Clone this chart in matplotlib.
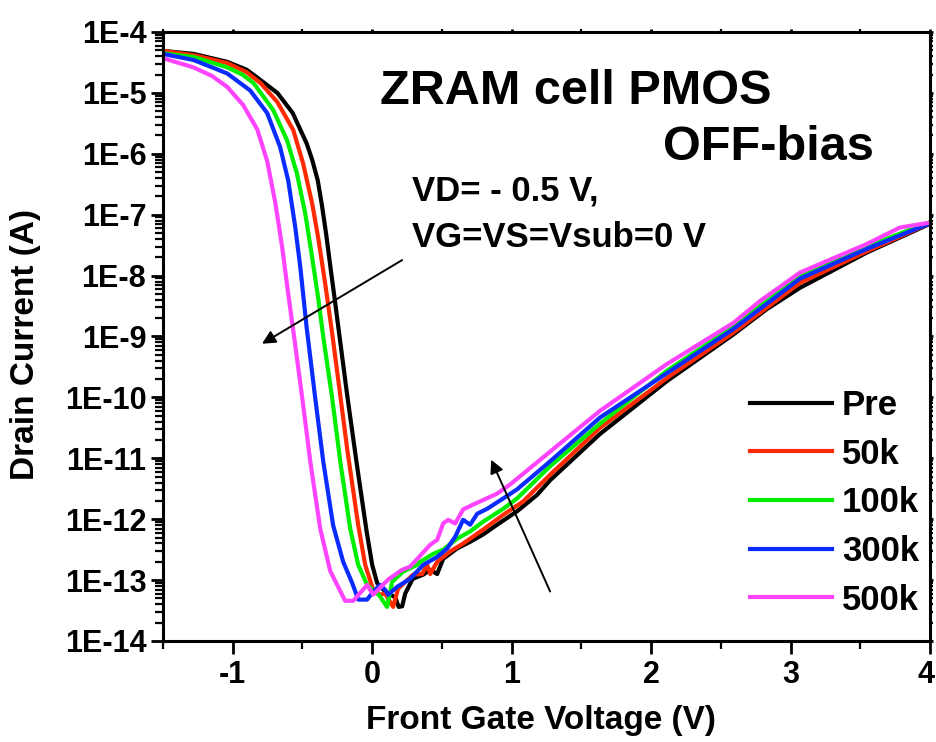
import numpy as np
import matplotlib
matplotlib.use("Agg")
import matplotlib.pyplot as plt
import matplotlib.transforms as mtrans
from matplotlib.ticker import LogLocator, FixedLocator, MultipleLocator, NullFormatter

plt.rcParams['font.family'] = ['Liberation Sans', 'DejaVu Sans']
plt.rcParams['font.weight'] = 'bold'

# ---- data: gate voltage (V) and log10 of drain current (A) ----
pre_v = [-1.5, -1.28, -1.04, -0.90, -0.80, -0.68, -0.57, -0.47, -0.43, -0.39, -0.36, -0.33, -0.30,
         -0.265, -0.25, -0.18, -0.11, -0.04, 0.0, 0.036, 0.107, 0.165, 0.19, 0.215, 0.237, 0.29,
         0.366, 0.416, 0.466, 0.509, 0.609, 0.703, 0.796, 0.896, 1.039, 1.183, 1.276, 1.634, 2.115,
         2.588, 2.83, 3.068, 3.548, 4.0]
pre_log = [-4.31, -4.36, -4.49, -4.62, -4.79, -5.00, -5.33, -5.83, -6.1, -6.44, -6.85, -7.32, -7.85,
           -8.45, -8.72, -9.95, -11.10, -12.20, -12.75, -13.05, -13.22, -13.28, -13.44, -13.43,
           -13.22, -12.98, -12.91, -12.83, -12.9, -12.65, -12.48, -12.37, -12.25, -12.09, -11.87,
           -11.6, -11.36, -10.6, -9.73, -8.97, -8.55, -8.2, -7.62, -7.15]

k50_v = [-1.5, -1.28, -1.04, -0.90, -0.80, -0.68, -0.566, -0.495, -0.43, -0.387, -0.337, -0.287,
         -0.244, -0.179, -0.10, -0.05, 0.007, 0.057, 0.093, 0.15, 0.186, 0.237, 0.294, 0.358, 0.394,
         0.416, 0.466, 0.559, 0.652, 0.796, 0.939, 1.082, 1.276, 1.634, 2.115, 2.588, 3.068, 3.548,
         4.0]
k50_log = [-4.31, -4.38, -4.51, -4.66, -4.84, -5.15, -5.61, -6.16, -6.82, -7.38, -8.13, -8.95, -9.7,
           -10.85, -12.1, -12.75, -13.16, -13.24, -13.22, -13.44, -13.14, -13.03, -12.91, -12.9,
           -12.75, -12.9, -12.7, -12.53, -12.4, -12.17, -11.93, -11.71, -11.27, -10.5, -9.68,
           -8.94, -8.12, -7.6, -7.14]

k100_v = [-1.5, -1.28, -1.04, -0.93, -0.85, -0.71, -0.61, -0.54, -0.48, -0.43, -0.387, -0.351,
          -0.287, -0.229, -0.158, -0.10, -0.036, 0.05, 0.107, 0.143, 0.222, 0.323, 0.344, 0.437,
          0.509, 0.609, 0.703, 0.796, 0.939, 1.039, 1.276, 1.634, 2.115, 2.588, 3.068, 3.548, 4.0]
k100_log = [-4.35, -4.41, -4.58, -4.7, -4.84, -5.28, -5.78, -6.32, -6.98, -7.71, -8.37, -9.0,
            -10.01, -11.05, -12.15, -12.75, -13.08, -13.25, -13.44, -13.03, -12.86, -12.75, -12.7,
            -12.57, -12.5, -12.32, -12.2, -12.04, -11.83, -11.66, -11.13, -10.43, -9.56, -8.84,
            -8.0, -7.52, -7.12]

k300_v = [-1.5, -1.28, -1.04, -0.875, -0.753, -0.66, -0.602, -0.552, -0.516, -0.47,
          -0.409, -0.351, -0.28, -0.208, -0.143, -0.10, -0.036, 0.007, 0.057, 0.093, 0.115, 0.179,
          0.272, 0.366, 0.466, 0.538, 0.595, 0.652, 0.703, 0.753, 0.824, 0.939, 1.039, 1.276,
          1.634, 2.115, 2.588, 3.068, 3.548, 4.0]
k300_log = [-4.36, -4.46, -4.68, -4.96, -5.33, -5.89, -6.44, -7.2, -7.85, -8.85,
            -10.0, -11.05, -12.1, -12.7, -13.05, -13.32, -13.32, -13.19, -13.08, -13.16, -13.24,
            -13.11, -12.98, -12.75, -12.62, -12.48, -12.29, -12.01, -12.09, -11.91, -11.83, -11.66,
            -11.51, -11.05, -10.33, -9.6, -8.88, -8.05, -7.56, -7.14]

k500_v = [-1.5, -1.283, -1.15, -1.04, -0.925, -0.824, -0.753, -0.695, -0.645, -0.602, -0.566,
          -0.502, -0.444, -0.373, -0.301, -0.194, -0.136, -0.036, 0.007, 0.115, 0.215, 0.272, 0.416,
          0.466, 0.509, 0.545, 0.595, 0.652, 0.724, 0.896, 0.989, 1.276, 1.634, 2.115, 2.588, 2.78,
          3.068, 3.548, 3.785, 4.0]
k500_log = [-4.43, -4.58, -4.72, -4.9, -5.2, -5.6, -6.12, -6.8, -7.54, -8.3, -8.9, -10.0,
            -11.05, -12.15, -12.85, -13.34, -13.34, -13.08, -13.24, -12.99, -12.83, -12.78, -12.42,
            -12.34, -12.07, -12.01, -12.07, -11.84, -11.76, -11.58, -11.43, -10.89, -10.22, -9.45,
            -8.78, -8.42, -7.95, -7.48, -7.21, -7.13]

labels = ["Pre", "50k", "100k", "300k", "500k"]
colors = ["#000000", "#ff2a00", "#00ee00", "#0a2cff", "#ff44ff"]
series = [(pre_v, pre_log), (k50_v, k50_log), (k100_v, k100_log),
          (k300_v, k300_log), (k500_v, k500_log)]

ytick_exps = list(range(-14, -3))
ytick_labels = ["1E%d" % e for e in ytick_exps]
xticks = [-1, 0, 1, 2, 3, 4]

W, H = 936, 742
fig = plt.figure(figsize=(W / 100, H / 100), dpi=100)
ax = fig.add_axes([163 / W, 1 - 641 / H, (930 - 163) / W, (641 - 32) / H])

for (v, lg), c, lab in zip(series, colors, labels):
    ax.plot(v, 10.0 ** np.array(lg), color=c, lw=3.0, label=lab)

ax.set_yscale('log')
ax.set_xlim(-1.5, 4)
ax.set_ylim(1e-14, 1e-4)

ax.yaxis.set_major_locator(FixedLocator([10.0 ** e for e in ytick_exps]))
ax.set_yticklabels(ytick_labels)
ax.yaxis.set_minor_locator(LogLocator(base=10, subs=np.arange(2, 10), numticks=100))
ax.yaxis.set_minor_formatter(NullFormatter())
ax.set_xticks(xticks)
ax.set_xticklabels([str(t) for t in xticks])
ax.xaxis.set_minor_locator(MultipleLocator(0.5))

for s in ax.spines.values():
    s.set_linewidth(2.2)

ax.tick_params(axis='both', which='major', direction='out', length=9, width=2,
               labelsize=22, pad=3)
ax.tick_params(axis='both', which='minor', direction='out', length=5.5, width=1.6)
ax.tick_params(axis='x', which='both', top=True, labeltop=False)
ax.tick_params(axis='x', which='major', pad=5)
ax.tick_params(axis='y', which='both', right=True, labelright=False)
for tl in ax.xaxis.get_majorticklines()[1::2] + ax.xaxis.get_minorticklines()[1::2]:
    tl.set_markersize(2)
for tl in ax.yaxis.get_majorticklines()[1::2] + ax.yaxis.get_minorticklines()[1::2]:
    tl.set_markersize(2)

for lab in ax.get_xticklabels() + ax.get_yticklabels():
    lab.set_fontweight('bold')
last = ax.get_xticklabels()[-1]
last.set_transform(last.get_transform() +
                   mtrans.ScaledTranslation(-4 / 100, 0, fig.dpi_scale_trans))

ax.set_xlabel("Front Gate Voltage (V)", fontsize=24, fontweight='bold')
ax.set_ylabel("Drain Current (A)", fontsize=24, fontweight='bold')
ax.xaxis.label.set_va('center')
ax.yaxis.label.set_va('center')
ax.xaxis.set_label_coords((541 - 163) / 767, (641 - 721) / 609)
ax.yaxis.set_label_coords((26 - 163) / 767, (641 - 345) / 609)

def ftext(x, y, s, size):
    fig.text(x / W, 1 - y / H, s, fontsize=size, fontweight='bold', va='baseline', ha='left')

ftext(380, 104, "ZRAM cell PMOS", 35)
ftext(663, 160, "OFF-bias", 35)
ftext(412, 200, "VD= - 0.5 V,", 25)
ftext(412, 247, "VG=VS=Vsub=0 V", 25)

ax.annotate("", xy=(-0.79, 7.6e-10), xytext=(0.215, 1.8e-8),
            arrowprops=dict(arrowstyle='-|>', color='black', lw=1.4, mutation_scale=20,
                            shrinkA=0, shrinkB=0))
ax.annotate("", xy=(0.853, 9.5e-12), xytext=(1.276, 6.5e-14),
            arrowprops=dict(arrowstyle='-|>', color='black', lw=1.4, mutation_scale=20,
                            shrinkA=0, shrinkB=0))

leg = ax.legend(loc='upper left', bbox_to_anchor=(750 / W, 1 - 389 / H),
                bbox_transform=fig.transFigure, frameon=False, fontsize=25,
                handlelength=2.35, handletextpad=0.3, labelspacing=0.45,
                borderpad=0, borderaxespad=0)
for t in leg.get_texts():
    t.set_fontweight('bold')
for l in leg.get_lines():
    l.set_linewidth(3.0)

fig.savefig("out.png", dpi=100)
